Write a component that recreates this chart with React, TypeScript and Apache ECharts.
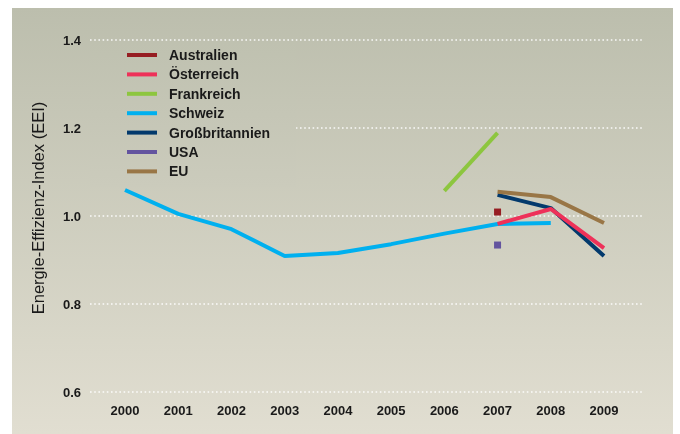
import React, { useEffect, useRef } from "react";
import * as echarts from "echarts";

const years = [2000, 2001, 2002, 2003, 2004, 2005, 2006, 2007, 2008, 2009];
const yTicks = [0.6, 0.8, 1.0, 1.2, 1.4];

const legendNames = ["Australien", "Österreich", "Frankreich", "Schweiz", "Großbritannien", "USA", "EU"];

const schweiz = [1.059, 1.005, 0.97, 0.909, 0.916, 0.936, 0.96, 0.982, 0.984, null];
const frankreich = [null, null, null, null, null, null, 1.057, 1.189, null, null];
const grossbritannien = [null, null, null, null, null, null, null, 1.048, 1.018, 0.909];
const oesterreich = [null, null, null, null, null, null, null, 0.982, 1.016, 0.927];
const eu = [null, null, null, null, null, null, null, 1.055, 1.043, 0.984];
const australien = [null, null, null, null, null, null, null, 1.009, null, null];
const usa = [null, null, null, null, null, null, null, 0.934, null, null];

const colors: Record<string, string> = {
  Australien: "#961d22",
  Österreich: "#ee3159",
  Frankreich: "#8dc63f",
  Schweiz: "#00b0ef",
  Großbritannien: "#02396c",
  USA: "#63549f",
  EU: "#997646",
};

const FONT = "'Liberation Sans', Arial, Helvetica, sans-serif";

function pairs(vals: (number | null)[]) {
  const out: [number, number][] = [];
  vals.forEach((v, i) => {
    if (v !== null) out.push([years[i], v]);
  });
  return out;
}

export default function App() {
  const ref = useRef<HTMLDivElement>(null);
  useEffect(() => {
    if (!ref.current) return;
    const chart = echarts.init(ref.current, null, { renderer: "svg" });
    const lineSeries = (name: string, vals: (number | null)[]) => ({
      name,
      type: "line",
      data: pairs(vals),
      symbol: "none",
      lineStyle: { width: 4, color: colors[name], cap: "butt" },
      itemStyle: { color: colors[name] },
    });
    const pointSeries = (name: string, vals: (number | null)[]) => ({
      name,
      type: "line",
      data: pairs(vals),
      symbol: "rect",
      symbolSize: 7,
      showSymbol: true,
      lineStyle: { width: 4, color: colors[name] },
      itemStyle: { color: colors[name] },
    });
    chart.setOption({
      animation: false,
      textStyle: { fontFamily: FONT },
      graphic: [
        {
          type: "rect",
          z: -10,
          silent: true,
          shape: { x: 12, y: 8, width: 661, height: 426 },
          style: {
            fill: new echarts.graphic.LinearGradient(0, 0, 0, 1, [
              { offset: 0, color: "#bcbead" },
              { offset: 1, color: "#e1ded1" },
            ]),
          },
        },
        {
          type: "text",
          x: 38,
          y: 208,
          rotation: Math.PI / 2,
          style: {
            text: "Energie-Effizienz-Index (EEI)",
            fontSize: 16.5,
            fontFamily: FONT,
            fill: "#1a1a1a",
            textAlign: "center",
            textVerticalAlign: "middle",
          },
        },
      ],
      grid: { left: 90, right: 37, top: 40, bottom: 42 },
      legend: {
        data: legendNames,
        orient: "vertical",
        left: 90,
        top: 42,
        icon: "rect",
        itemWidth: 30,
        itemHeight: 4,
        itemGap: 4.4,
        padding: [5.5, 26, 8, 37],
        backgroundColor: new echarts.graphic.LinearGradient(0, 0, 0, 1, [
          { offset: 0, color: "#bfc1b0" },
          { offset: 1, color: "#cbcbbc" },
        ]),
        textStyle: {
          fontSize: 14,
          fontWeight: "bold",
          lineHeight: 15,
          color: "#1a1a1a",
          fontFamily: FONT,
          padding: [0, 0, 0, 7],
        },
      },
      xAxis: {
        type: "value",
        min: 1999.342,
        max: 2009.733,
        axisLine: { show: false },
        axisTick: { show: false },
        splitLine: { show: false },
        axisLabel: {
          customValues: years,
          formatter: (v: number) => String(Math.round(v)),
          fontSize: 13,
          fontWeight: "bold",
          color: "#1a1a1a",
          fontFamily: FONT,
          margin: 12,
        },
      },
      yAxis: {
        type: "value",
        min: 0.6,
        max: 1.4,
        interval: 0.2,
        axisLine: { show: false },
        axisTick: { show: false },
        axisLabel: {
          formatter: (v: number) => v.toFixed(1),
          fontSize: 13,
          fontWeight: "bold",
          color: "#1a1a1a",
          fontFamily: FONT,
          margin: 9,
        },
        splitLine: {
          show: true,
          lineStyle: { color: "rgba(255,255,255,0.9)", width: 1.6, type: [1.6, 2.6] },
        },
      },
      series: [
        lineSeries("Schweiz", schweiz),
        lineSeries("Frankreich", frankreich),
        lineSeries("Großbritannien", grossbritannien),
        lineSeries("EU", eu),
        lineSeries("Österreich", oesterreich),
        pointSeries("Australien", australien),
        pointSeries("USA", usa),
      ],
    });
    return () => chart.dispose();
  }, []);
  return (
    <div
      ref={ref}
      style={{ position: "fixed", left: 0, top: 0, width: 680, height: 434 }}
    />
  );
}
